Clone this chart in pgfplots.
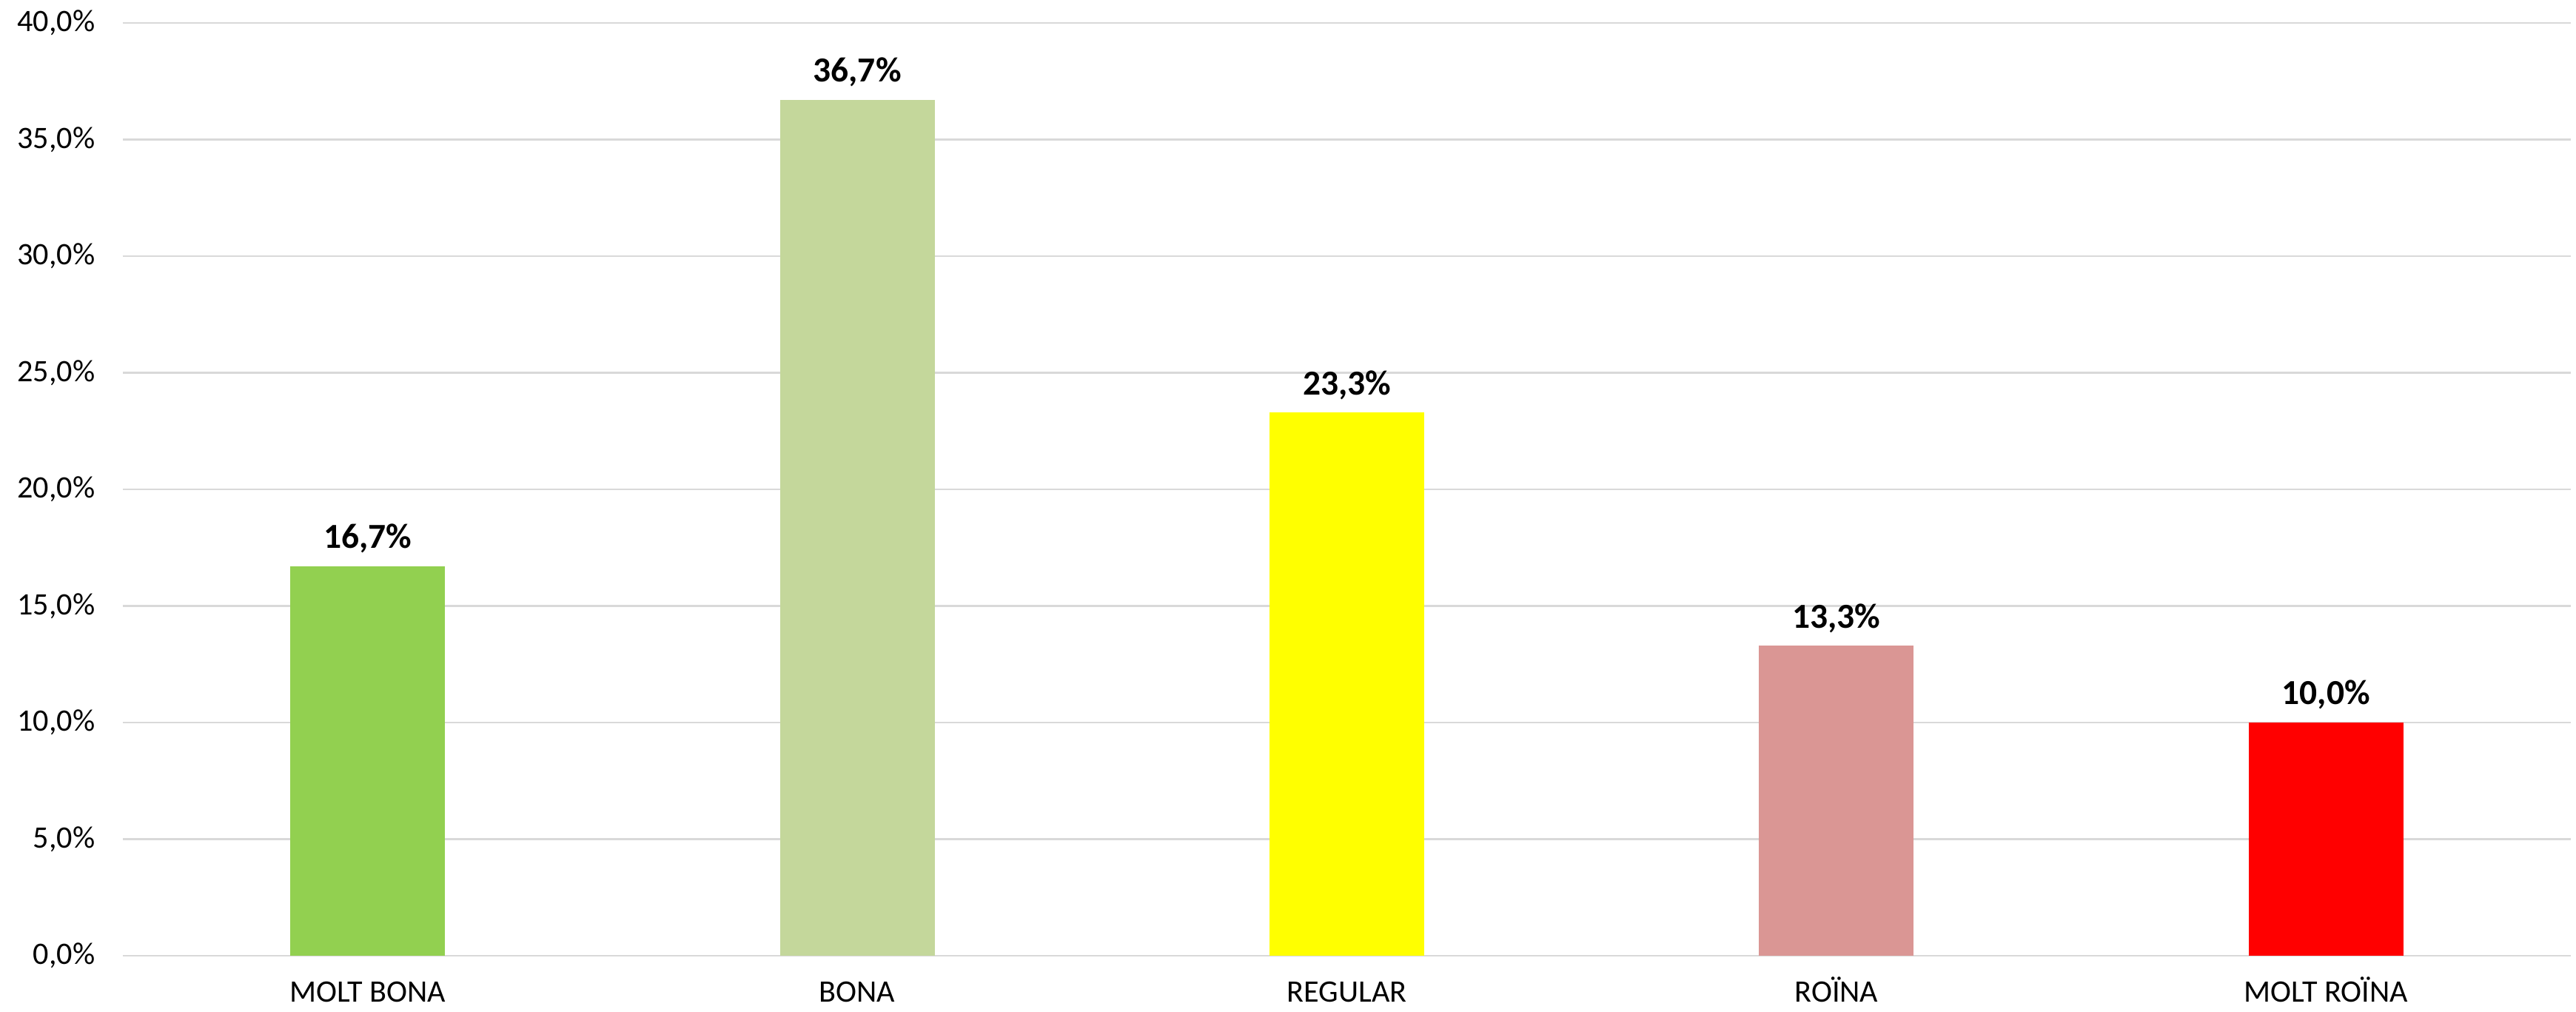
\documentclass[border=0pt]{standalone}
\usepackage{fontspec}
\setmainfont{Carlito}
\usepackage{pgfplots}
\pgfplotsset{compat=1.18}
\definecolor{c1}{HTML}{92D050}
\definecolor{c2}{HTML}{C4D79B}
\definecolor{c3}{HTML}{FFFF00}
\definecolor{c4}{HTML}{DA9694}
\definecolor{c5}{HTML}{FF0000}
\definecolor{gridc}{HTML}{D9D9D9}
\begin{document}
\begin{tikzpicture}
\begin{axis}[
  name=ax,
  scale only axis,
  width=33.07cm, height=12.6cm,
  ybar, bar width=2.09cm, bar shift=0pt,
  xmin=-0.5, xmax=4.5, ymin=0, ymax=40,
  xtick={0,1,2,3,4},
  xticklabels={MOLT BONA, BONA, REGULAR, ROÏNA, MOLT ROÏNA},
  ytick={0,5,...,40},
  yticklabel={\pgfmathprintnumber[fixed, fixed zerofill, precision=1, use comma, assume math mode=true]{\tick}\%},
  ymajorgrids,
  grid style={draw=gridc, line width=0.6pt},
  axis line style={draw=none},
  major tick length=0pt,
  tick style={draw=none},
  ticklabel style={font=\fontsize{12}{14}\selectfont, inner sep=0pt},
  yticklabel style={anchor=east, xshift=-0.37cm},
  xticklabel style={anchor=base, yshift=-0.63cm},
  nodes near coords={\pgfmathprintnumber[fixed, fixed zerofill, precision=1, use comma, assume math mode=true]{\pgfplotspointmeta}\%},
  nodes near coords style={font=\fontsize{13.5}{16}\selectfont\bfseries, anchor=base, inner sep=0pt, yshift=0.24cm, text=black},
  clip=false,
]
\addplot[fill=c1, draw=none] coordinates {(0,16.7)};
\addplot[fill=c2, draw=none] coordinates {(1,36.7)};
\addplot[fill=c3, draw=none] coordinates {(2,23.3)};
\addplot[fill=c4, draw=none] coordinates {(3,13.3)};
\addplot[fill=c5, draw=none] coordinates {(4,10.0)};
\end{axis}
\path ([shift={(-1.66cm,-0.76cm)}]ax.south west) rectangle ([shift={(0.07cm,0.31cm)}]ax.north east);
\end{tikzpicture}
\end{document}
